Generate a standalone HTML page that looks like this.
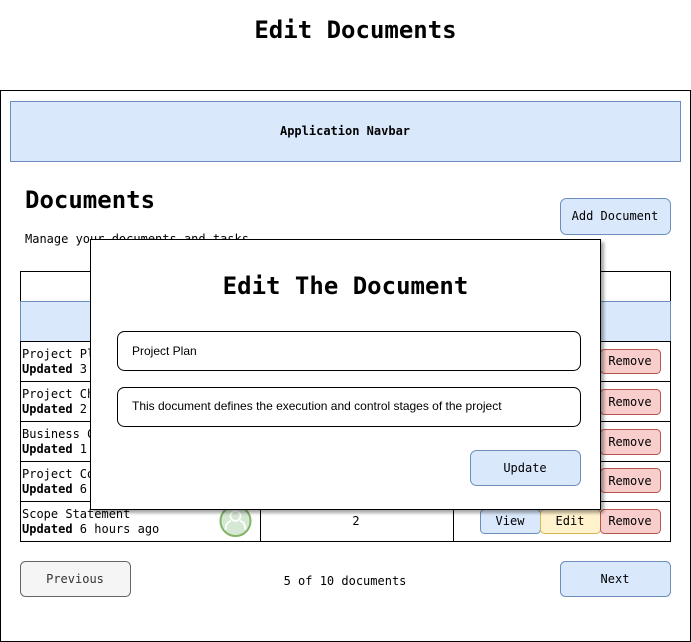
<!DOCTYPE html>
<html><head><meta charset="utf-8"><style>
html,body{margin:0;padding:0;background:#fff;width:691px;height:642px;overflow:hidden}
svg text{font-family:"DejaVu Sans Mono","Liberation Mono",monospace}
.s{font-family:"Liberation Sans",Arial,sans-serif!important}
</style></head><body>
<svg width="691" height="642" xmlns="http://www.w3.org/2000/svg">
<defs><filter id="sh" x="-5%" y="-5%" width="115%" height="115%"><feDropShadow dx="3" dy="3" stdDeviation="1.5" flood-color="#000" flood-opacity="0.35"/></filter></defs>
<text x="355.5" y="38" font-size="24" font-weight="bold" text-anchor="middle">Edit Documents</text>
<rect x="0.5" y="90.5" width="690" height="551" fill="#fff" stroke="#000"/>
<rect x="10.5" y="101.5" width="670" height="60" fill="#dae8fc" stroke="#6c8ebf"/>
<text x="345" y="135" font-size="12" font-weight="bold" text-anchor="middle">Application Navbar</text>
<text x="25" y="208" font-size="24" font-weight="bold">Documents</text>
<text x="25" y="243" font-size="12">Manage your documents and tasks</text>
<rect x="560.5" y="198.5" width="110" height="36" rx="6" fill="#dae8fc" stroke="#6c8ebf"/>
<text x="615" y="220" font-size="12" text-anchor="middle">Add Document</text>
<rect x="20.5" y="271.5" width="650" height="270" fill="#fff" stroke="#000"/>
<rect x="20.5" y="301.5" width="650" height="40" fill="#dae8fc" stroke="#6c8ebf"/>
<g stroke="#000">
<line x1="20" y1="341.5" x2="671" y2="341.5"/><line x1="20" y1="381.5" x2="671" y2="381.5"/>
<line x1="20" y1="421.5" x2="671" y2="421.5"/><line x1="20" y1="461.5" x2="671" y2="461.5"/>
<line x1="20" y1="501.5" x2="671" y2="501.5"/>
<line x1="260.5" y1="341" x2="260.5" y2="541"/><line x1="453.5" y1="341" x2="453.5" y2="541"/>
</g>
<g font-size="12">
<text x="22" y="358">Project Plan</text><text x="22" y="373"><tspan font-weight="bold">Updated</tspan> 3 hours ago</text>
<text x="22" y="398">Project Charter</text><text x="22" y="413"><tspan font-weight="bold">Updated</tspan> 2 hours ago</text>
<text x="22" y="438">Business Case</text><text x="22" y="453"><tspan font-weight="bold">Updated</tspan> 1 hours ago</text>
<text x="22" y="478">Project Costs</text><text x="22" y="493"><tspan font-weight="bold">Updated</tspan> 6 hours ago</text>
<text x="22" y="518">Scope Statement</text><text x="22" y="533"><tspan font-weight="bold">Updated</tspan> 6 hours ago</text>
<text x="356" y="525" text-anchor="middle">2</text>
</g>
<g>
<circle cx="235.5" cy="521" r="15" fill="#d5e8d4" stroke="#82b366" stroke-width="2"/>
<circle cx="235.5" cy="516" r="5" fill="none" stroke="#fff" stroke-width="1.8"/>
<path d="M225.5 530 Q226 522 231 521 M245.5 530 Q245 522 240 521" fill="none" stroke="#fff" stroke-width="1.8"/>
</g>
<g font-size="12" text-anchor="middle">
<rect x="480.5" y="509.5" width="60" height="24" rx="4" fill="#dae8fc" stroke="#6c8ebf"/><text x="510" y="525">View</text>
<rect x="540.5" y="509.5" width="60" height="24" rx="4" fill="#fff2cc" stroke="#d6b656"/><text x="570" y="525">Edit</text>
<rect x="600.5" y="349.5" width="60" height="24" rx="4" fill="#f8cecc" stroke="#b85450"/><text x="630" y="365">Remove</text>
<rect x="600.5" y="389.5" width="60" height="25" rx="4" fill="#f8cecc" stroke="#b85450"/><text x="630" y="406">Remove</text>
<rect x="600.5" y="429.5" width="60" height="25" rx="4" fill="#f8cecc" stroke="#b85450"/><text x="630" y="446">Remove</text>
<rect x="600.5" y="468.5" width="60" height="24" rx="4" fill="#f8cecc" stroke="#b85450"/><text x="630" y="485">Remove</text>
<rect x="600.5" y="509.5" width="60" height="24" rx="4" fill="#f8cecc" stroke="#b85450"/><text x="630" y="525">Remove</text>
</g>
<rect x="20.5" y="561.5" width="110" height="35" rx="5" fill="#f5f5f5" stroke="#666"/>
<text x="75" y="583" font-size="12" text-anchor="middle" fill="#333">Previous</text>
<text x="345" y="585" font-size="12" text-anchor="middle">5 of 10 documents</text>
<rect x="560.5" y="561.5" width="110" height="35" rx="5" fill="#dae8fc" stroke="#6c8ebf"/>
<text x="615" y="583" font-size="12" text-anchor="middle">Next</text>
<rect x="90.5" y="239.5" width="510" height="270" fill="#fff" stroke="#000" filter="url(#sh)"/>
<text x="345.5" y="294" font-size="24" font-weight="bold" text-anchor="middle">Edit The Document</text>
<rect x="117.5" y="331.5" width="463" height="39" rx="7" fill="#fff" stroke="#000"/>
<text class="s" x="132" y="355" font-size="12">Project Plan</text>
<rect x="117.5" y="387.5" width="463" height="39" rx="7" fill="#fff" stroke="#000"/>
<text class="s" x="132" y="410" font-size="12">This document defines the execution and control stages of the project</text>
<rect x="470.5" y="450.5" width="110" height="35" rx="6" fill="#dae8fc" stroke="#6c8ebf"/>
<text x="525" y="472" font-size="12" text-anchor="middle">Update</text>
</svg>
</body></html>
